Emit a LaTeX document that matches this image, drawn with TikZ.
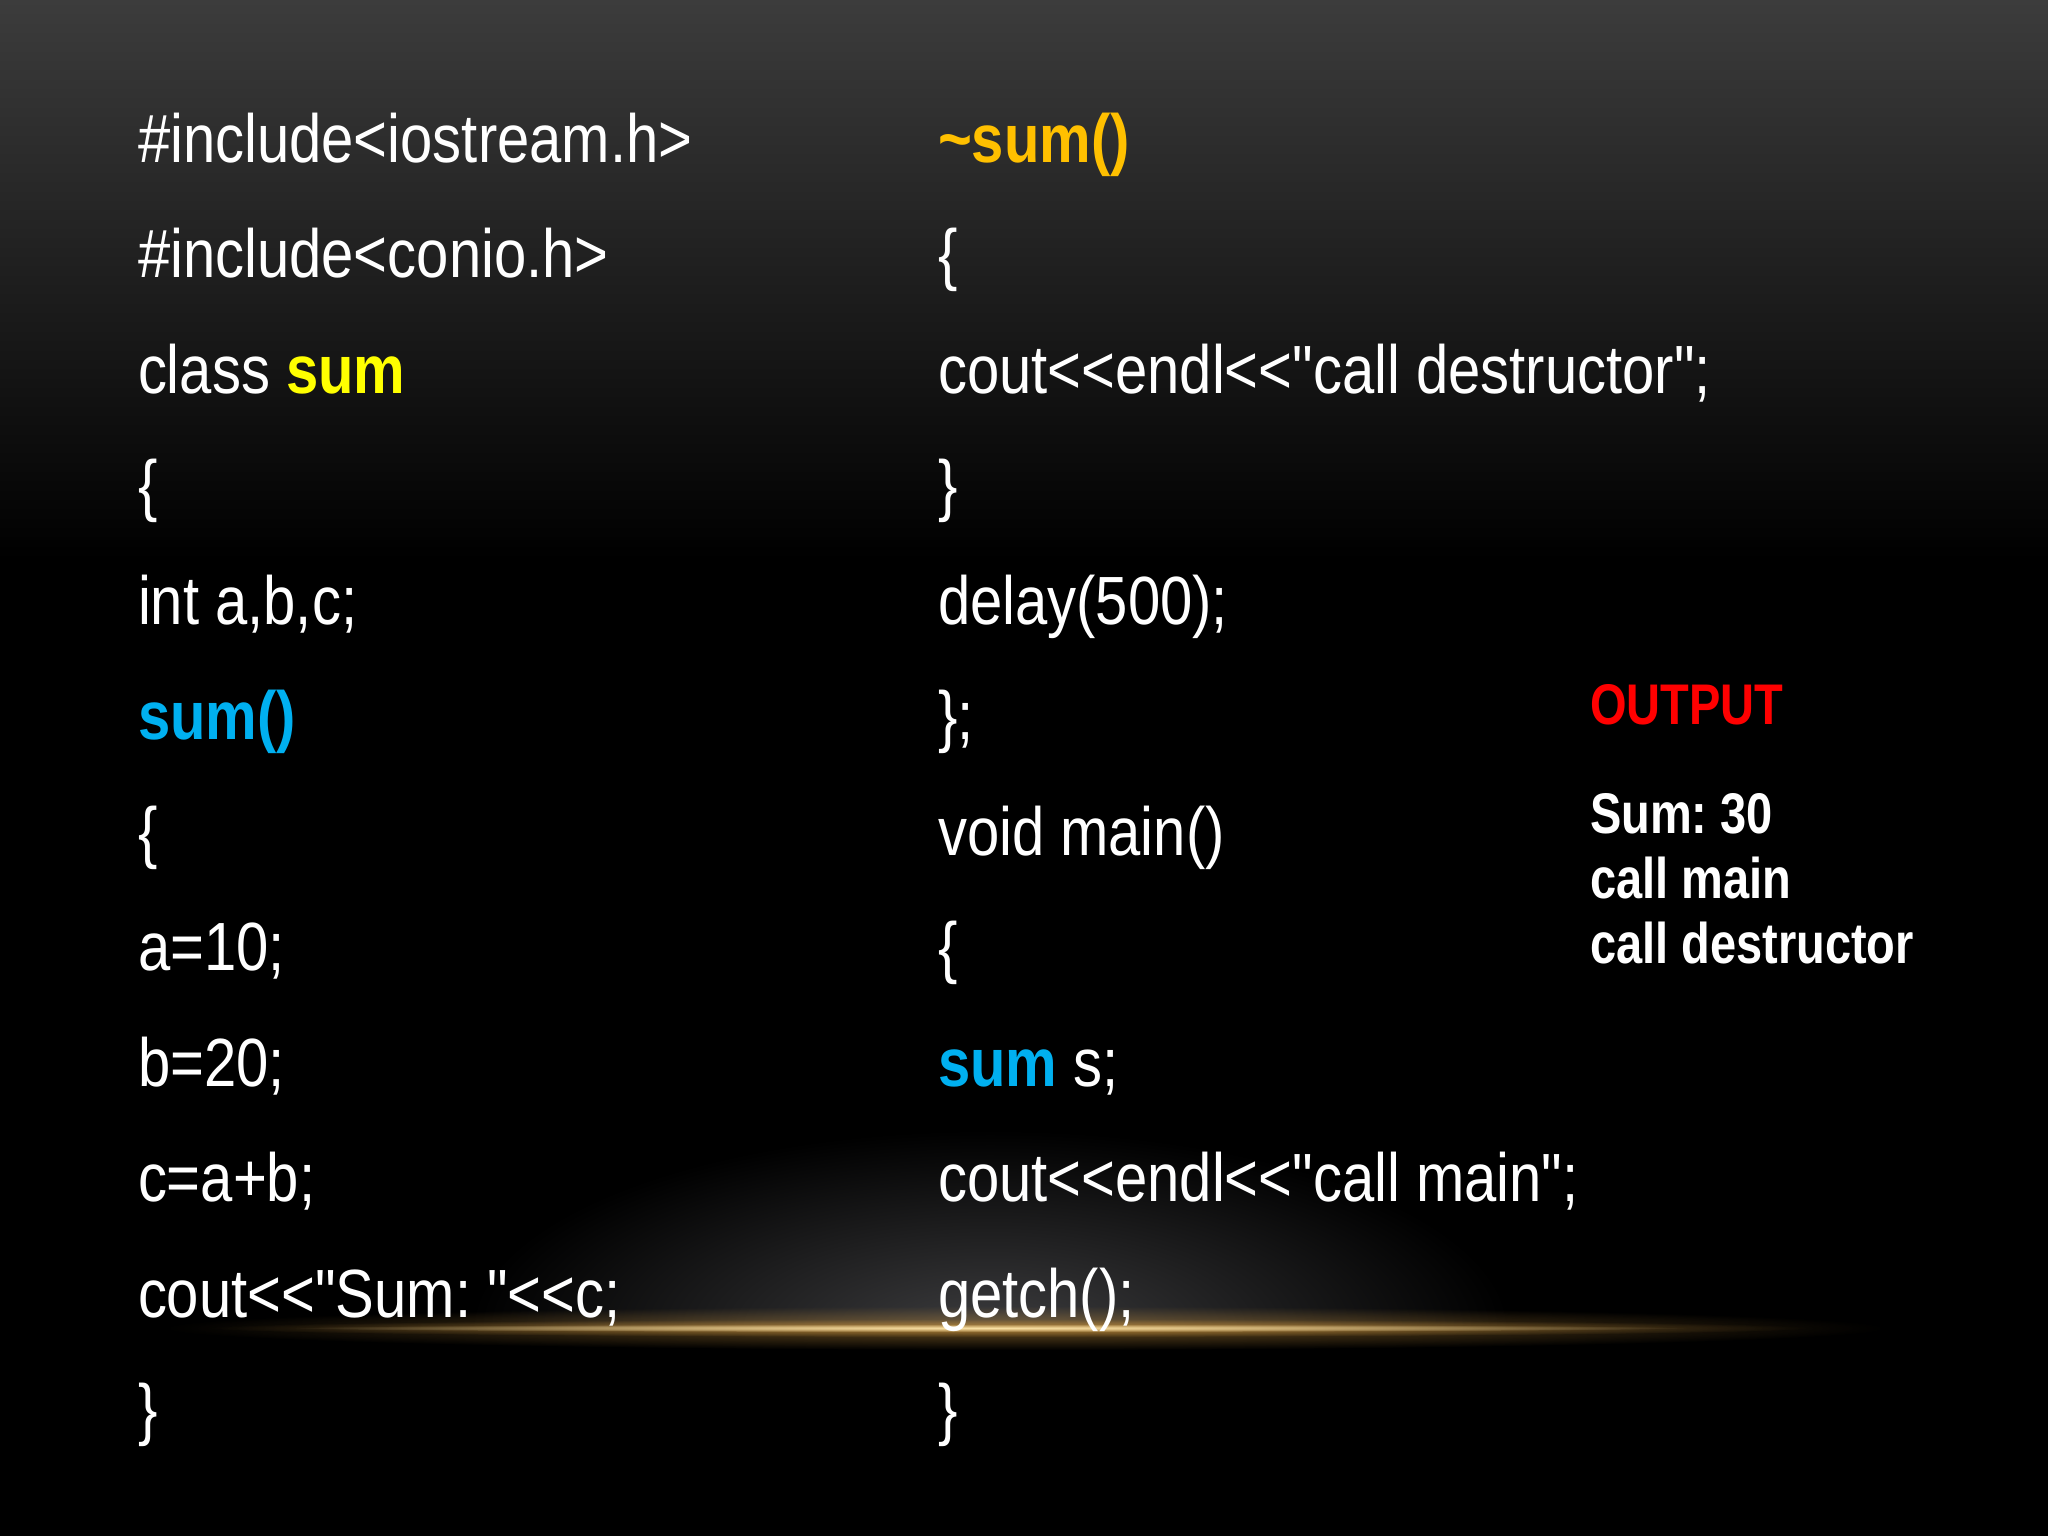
\documentclass[tikz,border=0pt]{standalone}
\usepackage{fontspec}
\newfontfamily\narrow[FakeStretch=0.85]{Liberation Sans}
\newfontfamily\narrowout[FakeStretch=0.82]{Liberation Sans}
\usetikzlibrary{fadings}
\definecolor{topgray}{RGB}{60,60,60}
\definecolor{codeyellow}{RGB}{255,255,0}
\definecolor{codeblue}{RGB}{0,176,240}
\definecolor{codeorange}{RGB}{255,192,0}
\definecolor{outred}{RGB}{255,0,0}
\definecolor{hazegray}{RGB}{60,60,62}
\definecolor{golddim}{RGB}{190,140,60}
\definecolor{goldbright}{RGB}{250,225,165}
\tikzfading[name=glowfade, inner color=transparent!0, outer color=transparent!100]
\tikzset{
  codeline/.style={anchor=base west, inner sep=0pt, outer sep=0pt, text=white,
    font=\narrow\fontsize{19.4pt}{23pt}\selectfont},
  outline/.style={anchor=base west, inner sep=0pt, outer sep=0pt, text=white,
    font=\narrowout\bfseries\fontsize{16.3pt}{19pt}\selectfont},
}
\frenchspacing
\begin{document}
\begin{tikzpicture}[x=0.01cm, y=-0.01cm]
\useasboundingbox (0,0) rectangle (2048,1536);
% background
\fill[black] (0,0) rectangle (2048,1536);
\shade[top color=topgray, bottom color=black] (0,0) rectangle (2048,560);
% haze above the glow line
\begin{scope}
\clip (0,0) rectangle (2048,1327);
\shade[inner color=hazegray, outer color=black] (990,1330) ellipse [x radius=520, y radius=200];
\end{scope}
% golden glow line
\fill[golddim, path fading=glowfade, fill opacity=0.55] (1025,1328) ellipse [x radius=860, y radius=22];
\fill[golddim, path fading=glowfade, fill opacity=0.8] (1010,1328) ellipse [x radius=800, y radius=9];
\fill[goldbright, path fading=glowfade] (990,1328) ellipse [x radius=700, y radius=4];

% left column
\node[codeline] (l0) at (138,162.0) {\#include<iostream.h>};
\node[codeline] (l1) at (138,277.5) {\#include<conio.h>};
\node[codeline] (l2) at (138,393.0) {class {\bfseries\color{codeyellow}sum}};
\node[codeline] (l3) at (138,508.5) {\{};
\node[codeline] (l4) at (138,624.0) {int a,b,c;};
\node[codeline] (l5) at (138,739.5) {{\bfseries\color{codeblue}sum()}};
\node[codeline] (l6) at (138,855.0) {\{};
\node[codeline] (l7) at (138,970.5) {a=10;};
\node[codeline] (l8) at (138,1086.0) {b=20;};
\node[codeline] (l9) at (138,1201.5) {c=a+b;};
\node[codeline] (l10) at (138,1317.0) {cout<<"Sum: "<<c;};
\node[codeline] (l11) at (138,1432.5) {\}};

% right column
\node[codeline] (r0) at (938,162.0) {{\bfseries\color{codeorange}\textasciitilde sum()}};
\node[codeline] (r1) at (938,277.5) {\{};
\node[codeline] (r2) at (938,393.0) {cout<<endl<<"call destructor";};
\node[codeline] (r3) at (938,508.5) {\}};
\node[codeline] (r4) at (938,624.0) {delay(500);};
\node[codeline] (r5) at (938,739.5) {\};};
\node[codeline] (r6) at (938,855.0) {void main()};
\node[codeline] (r7) at (938,970.5) {\{};
\node[codeline] (r8) at (938,1086.0) {{\bfseries\color{codeblue}sum} s;};
\node[codeline] (r9) at (938,1201.5) {cout<<endl<<"call main";};
\node[codeline] (r10) at (938,1317.0) {getch();};
\node[codeline] (r11) at (938,1432.5) {\}};

% output
\node[outline, text=outred] (o0) at (1590,724) {OUTPUT};
\node[outline] (o1) at (1590,833) {Sum: 30};
\node[outline] (o2) at (1590,898) {call main};
\node[outline] (o3) at (1590,963) {call destructor};
\end{tikzpicture}
\end{document}
